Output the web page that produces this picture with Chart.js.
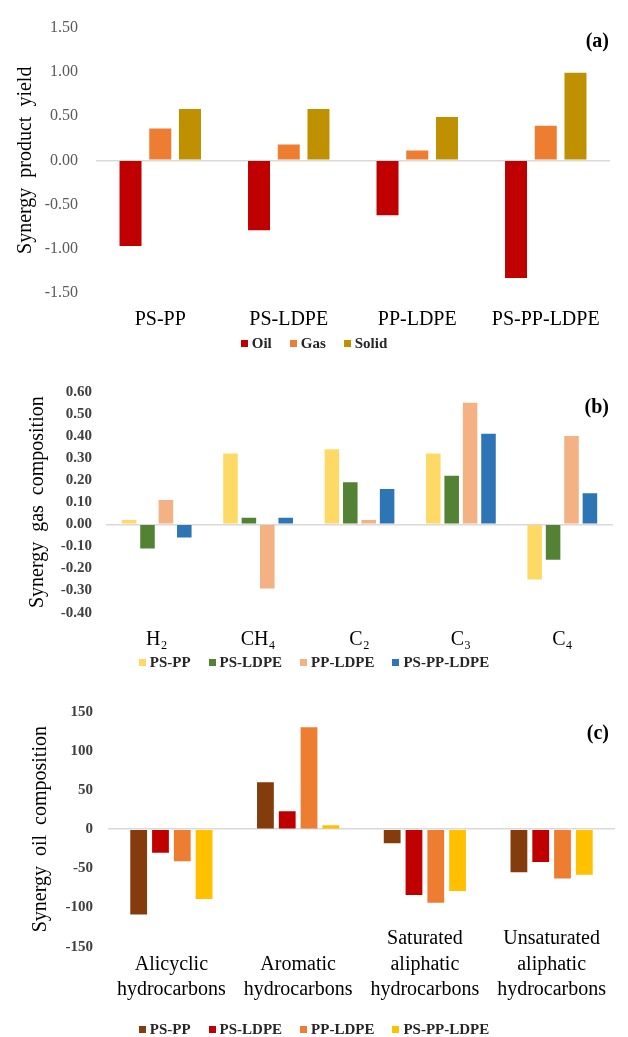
<!DOCTYPE html>
<html><head><meta charset="utf-8">
<script src="https://cdn.jsdelivr.net/npm/chart.js@4.4.1/dist/chart.umd.min.js"></script>
<style>
html,body{margin:0;padding:0;background:#fff;}
body{width:628px;height:1037px;position:relative;overflow:hidden;}
canvas{position:absolute;left:0;}
.tag{position:absolute;right:19px;font:bold 20px 'Liberation Serif','Times New Roman',serif;color:#000;line-height:24px;}
.legend{position:absolute;left:0;width:628px;display:flex;justify-content:center;font:bold 15px 'Liberation Serif','Times New Roman',serif;color:#262626;line-height:18px;}
.legend .item{display:flex;align-items:center;margin:0 9px;}
.legend i{display:inline-block;width:7px;height:7px;margin-right:4px;}
</style></head><body>
<canvas id="cA" width="628" height="335" style="top:0px"></canvas>
<canvas id="cB" width="628" height="300" style="top:355px"></canvas>
<canvas id="cC" width="628" height="362" style="top:675px"></canvas>
<div class="tag" style="top:28px">(a)</div>
<div class="tag" style="top:394px">(b)</div>
<div class="tag" style="top:720px">(c)</div>
<div class="legend" id="lA" style="top:334px"></div>
<div class="legend" id="lB" style="top:653px"></div>
<div class="legend" id="lC" style="top:1020px"></div>
<script>
// ---------- (a) Synergy product yield ----------
const yieldCategories = ['PS-PP', 'PS-LDPE', 'PP-LDPE', 'PS-PP-LDPE'];
const yieldSeriesNames = ['Oil', 'Gas', 'Solid'];
const oilYield   = [-0.97, -0.79, -0.62, -1.33];
const gasYield   = [0.36, 0.18, 0.11, 0.39];
const solidYield = [0.58, 0.58, 0.49, 0.99];
const yieldColors = ['#C00000', '#ED7D31', '#BF9000'];

// ---------- (b) Synergy gas composition ----------
const gasCategories = ['H\u2082', 'CH\u2084', 'C\u2082', 'C\u2083', 'C\u2084'];
const blendNames = ['PS-PP', 'PS-LDPE', 'PP-LDPE', 'PS-PP-LDPE'];
const gasPSPP     = [0.02, 0.32, 0.34, 0.32, -0.25];
const gasPSLDPE   = [-0.11, 0.03, 0.19, 0.22, -0.16];
const gasPPLDPE   = [0.11, -0.29, 0.02, 0.55, 0.40];
const gasPSPPLDPE = [-0.06, 0.03, 0.16, 0.41, 0.14];
const gasColors = ['#FFD966', '#548235', '#F4B183', '#2E75B6'];

// ---------- (c) Synergy oil composition ----------
const oilCategories = [
  ['', 'Alicyclic', 'hydrocarbons'],
  ['', 'Aromatic', 'hydrocarbons'],
  ['Saturated', 'aliphatic', 'hydrocarbons'],
  ['Unsaturated', 'aliphatic', 'hydrocarbons']
];
const oilPSPP     = [-109, 60, -18, -55];
const oilPSLDPE   = [-30, 23, -84, -42];
const oilPPLDPE   = [-41, 130, -94, -63];
const oilPSPPLDPE = [-89, 5, -79, -58];
const oilColors = ['#843C0C', '#C00000', '#ED7D31', '#FFC000'];

const serif = "'Liberation Serif', 'Times New Roman', serif";

function zeroGrid(ctx) {
  return (ctx.tick && Math.abs(ctx.tick.value) < 1e-9) ? '#d9d9d9' : 'rgba(0,0,0,0)';
}

function makeChart(id, legendId, p) {
  const datasets = p.series.map((d, i) => ({
    label: p.names[i], data: d, backgroundColor: p.colors[i], borderWidth: 0,
    categoryPercentage: p.cp, barPercentage: p.bp
  }));
  const chart = new Chart(document.getElementById(id), {
    type: 'bar',
    data: { labels: p.labels, datasets },
    options: {
      responsive: false, animation: false,
      layout: { padding: { top: p.top, right: p.right, bottom: 0, left: 0 } },
      plugins: { legend: { display: false }, tooltip: { enabled: false } },
      scales: {
        x: {
          grid: { display: false }, border: { display: false },
          ticks: { color: '#000', font: { family: serif, size: 20, lineHeight: p.xlh || 1.165 },
                   padding: p.xpad, mirror: !!p.mirror,
                   maxRotation: 0, minRotation: 0, autoSkip: false },
          afterFit: s => { s.height = p.xh; }
        },
        y: {
          min: p.min, max: p.max,
          ticks: { stepSize: p.step, color: p.tickColor, padding: p.ypad,
                   font: { family: serif, size: p.tickSize, weight: p.tickWeight },
                   callback: v => p.fmt(v) },
          grid: { color: zeroGrid, drawTicks: false, lineWidth: 1.5 },
          border: { display: false },
          title: { display: true, text: p.title, color: '#000',
                   font: { family: serif, size: 20 }, padding: { top: p.titlePad, bottom: 0 } },
          afterFit: s => { s.width = p.yw; }
        }
      }
    }
  });
  const lg = document.getElementById(legendId);
  datasets.forEach(ds => {
    const it = document.createElement('span'); it.className = 'item';
    const sq = document.createElement('i'); sq.style.background = ds.backgroundColor;
    it.appendChild(sq); it.appendChild(document.createTextNode(ds.label));
    lg.appendChild(it);
  });
  return chart;
}

makeChart('cA', 'lA', {
  labels: yieldCategories, names: yieldSeriesNames,
  series: [oilYield, gasYield, solidYield], colors: yieldColors,
  cp: 0.694, bp: 0.74, top: 26, right: 18, xh: 42, xpad: 7, yw: 96, ypad: 18,
  min: -1.5, max: 1.5, step: 0.5, fmt: v => v.toFixed(2),
  tickColor: '#595959', tickSize: 16, tickWeight: 'normal',
  title: 'Synergy  product  yield', titlePad: 14
});

makeChart('cB', 'lB', {
  labels: gasCategories, names: blendNames,
  series: [gasPSPP, gasPSLDPE, gasPPLDPE, gasPSPPLDPE], colors: gasColors,
  cp: 0.726, bp: 0.79, top: 36.7, right: 15, xh: 42.3, xpad: 7, yw: 106, ypad: 14,
  min: -0.4, max: 0.6, step: 0.1, fmt: v => v.toFixed(2),
  tickColor: '#404040', tickSize: 15, tickWeight: 'bold',
  title: 'Synergy  gas  composition', titlePad: 26
});

makeChart('cC', 'lC', {
  labels: oilCategories, names: blendNames,
  series: [oilPSPP, oilPSLDPE, oilPPLDPE, oilPSPPLDPE], colors: oilColors,
  cp: 0.688, bp: 0.77, top: 36.7, right: 13, xh: 90.3, xpad: -5, xlh: 1.27, mirror: true, yw: 108, ypad: 15,
  min: -150, max: 150, step: 50, fmt: v => String(Math.round(v)),
  tickColor: '#404040', tickSize: 15, tickWeight: 'bold',
  title: 'Synergy  oil  composition', titlePad: 29
});
</script>
</body></html>
